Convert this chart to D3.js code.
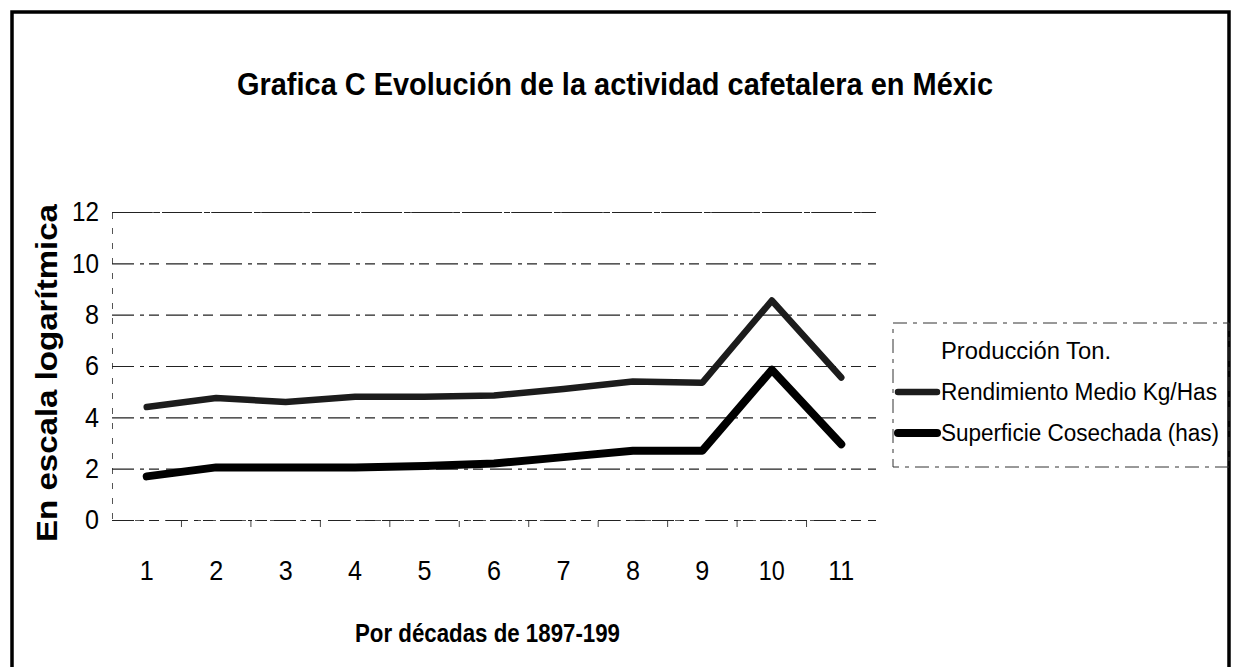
<!DOCTYPE html>
<html>
<head>
<meta charset="utf-8">
<script src="https://cdn.jsdelivr.net/npm/d3@7"></script>
<style>
  html, body { margin: 0; padding: 0; background: #fff; }
  svg { display: block; font-family: "Liberation Sans", Arial, sans-serif; }
</style>
</head>
<body>
<div id="chart"></div>
<script>
// datos
const categories = ['1', '2', '3', '4', '5', '6', '7', '8', '9', '10', '11'];
const yTicks = [0, 2, 4, 6, 8, 10, 12];
const seriesNames = ['Producción Ton.', 'Rendimiento Medio Kg/Has', 'Superficie Cosechada (has)'];
const rendimiento = [4.4, 4.75, 4.6, 4.8, 4.8, 4.85, 5.1, 5.4, 5.35, 8.55, 5.55];
const superficie = [1.7, 2.05, 2.05, 2.05, 2.1, 2.2, 2.45, 2.7, 2.7, 5.85, 2.95];

const width = 1233;
const height = 667;

const svg = d3.select('#chart')
    .append('svg')
    .attr('width', width)
    .attr('height', height);

// marco exterior
svg.append('rect')
    .attr('x', 12).attr('y', 12)
    .attr('width', 1217).attr('height', 700)
    .attr('fill', 'none')
    .attr('stroke', '#000')
    .attr('stroke-width', 3.5);

const xScale = d3.scaleBand()
    .domain(categories)
    .range([112, 876]);

const yScale = d3.scaleLinear()
    .domain([0, 12])
    .range([520, 212]);

// eje Y con lineas de rejilla punteadas
const yAxis = svg.append('g')
    .attr('transform', 'translate(112,0)')
    .call(d3.axisLeft(yScale).tickValues(yTicks).tickSize(-764).tickPadding(13).tickFormat(d3.format('d')));

yAxis.select('.domain')
    .attr('stroke', '#555')
    .attr('stroke-dasharray', '6,9');

yAxis.selectAll('.tick line')
    .attr('stroke', '#222')
    .attr('stroke-width', 1.2)
    .attr('stroke-dasharray', d => d === 12 ? '40,2,6,2' : '22,6,4,5,10,7');

yAxis.selectAll('text')
    .attr('font-size', 28)
    .attr('textLength', d => d >= 10 ? 27 : 14)
    .attr('lengthAdjust', 'spacingAndGlyphs')
    .attr('fill', '#000');

// eje X
const xAxis = svg.append('g')
    .attr('transform', 'translate(0,520)')
    .call(d3.axisBottom(xScale).tickSize(0).tickPadding(41));

xAxis.select('.domain').remove();
xAxis.selectAll('text')
    .attr('font-size', 27)
    .attr('textLength', d => d.length > 1 ? 26 : 14)
    .attr('lengthAdjust', 'spacingAndGlyphs')
    .attr('fill', '#000');

// marcas entre categorias
svg.append('g')
    .selectAll('line')
    .data(categories.slice(1))
    .enter().append('line')
    .attr('x1', d => xScale(d))
    .attr('x2', d => xScale(d))
    .attr('y1', 521)
    .attr('y2', 527)
    .attr('stroke', '#444')
    .attr('stroke-width', 1);

// lineas de datos
const line = d3.line()
    .x((d, i) => xScale(categories[i]) + xScale.bandwidth() / 2)
    .y(d => yScale(d));

svg.append('path')
    .datum(rendimiento)
    .attr('d', line)
    .attr('fill', 'none')
    .attr('stroke', '#1c1c1c')
    .attr('stroke-width', 6.5)
    .attr('stroke-linejoin', 'round')
    .attr('stroke-linecap', 'round');

svg.append('path')
    .datum(superficie)
    .attr('d', line)
    .attr('fill', 'none')
    .attr('stroke', '#000')
    .attr('stroke-width', 8)
    .attr('stroke-linejoin', 'round')
    .attr('stroke-linecap', 'round');

// titulo
svg.append('text')
    .attr('x', 237)
    .attr('y', 95)
    .attr('font-size', 32)
    .attr('font-weight', 'bold')
    .attr('textLength', 756)
    .attr('lengthAdjust', 'spacingAndGlyphs')
    .text('Grafica C  Evolución de la actividad cafetalera en Méxic');

// titulo eje Y
svg.append('text')
    .attr('transform', 'translate(57,373) rotate(-90)')
    .attr('text-anchor', 'middle')
    .attr('font-size', 30)
    .attr('font-weight', 'bold')
    .attr('textLength', 338)
    .attr('lengthAdjust', 'spacingAndGlyphs')
    .text('En escala logarítmica');

// titulo eje X
svg.append('text')
    .attr('x', 355)
    .attr('y', 642)
    .attr('font-size', 26)
    .attr('font-weight', 'bold')
    .attr('textLength', 265)
    .attr('lengthAdjust', 'spacingAndGlyphs')
    .text('Por décadas de 1897-199');

// leyenda
svg.append('rect')
    .attr('x', 893).attr('y', 323)
    .attr('width', 336).attr('height', 144)
    .attr('fill', 'none')
    .attr('stroke', '#333')
    .attr('stroke-width', 1)
    .attr('stroke-dasharray', '14,6,4,6');

const legendY = [351, 392, 433];
const legendStroke = [null, { w: 6.5, c: '#1c1c1c' }, { w: 8, c: '#000' }];
const legendLen = [170, 276, 278];

seriesNames.forEach(function (name, i) {
    if (legendStroke[i]) {
        svg.append('line')
            .attr('x1', 898).attr('x2', 937)
            .attr('y1', legendY[i]).attr('y2', legendY[i])
            .attr('stroke', legendStroke[i].c)
            .attr('stroke-width', legendStroke[i].w)
            .attr('stroke-linecap', 'round');
    }
    svg.append('text')
        .attr('x', 941)
        .attr('y', legendY[i] + 8)
        .attr('font-size', 23)
        .attr('textLength', legendLen[i])
        .attr('lengthAdjust', 'spacingAndGlyphs')
        .text(name);
});
</script>
</body>
</html>
